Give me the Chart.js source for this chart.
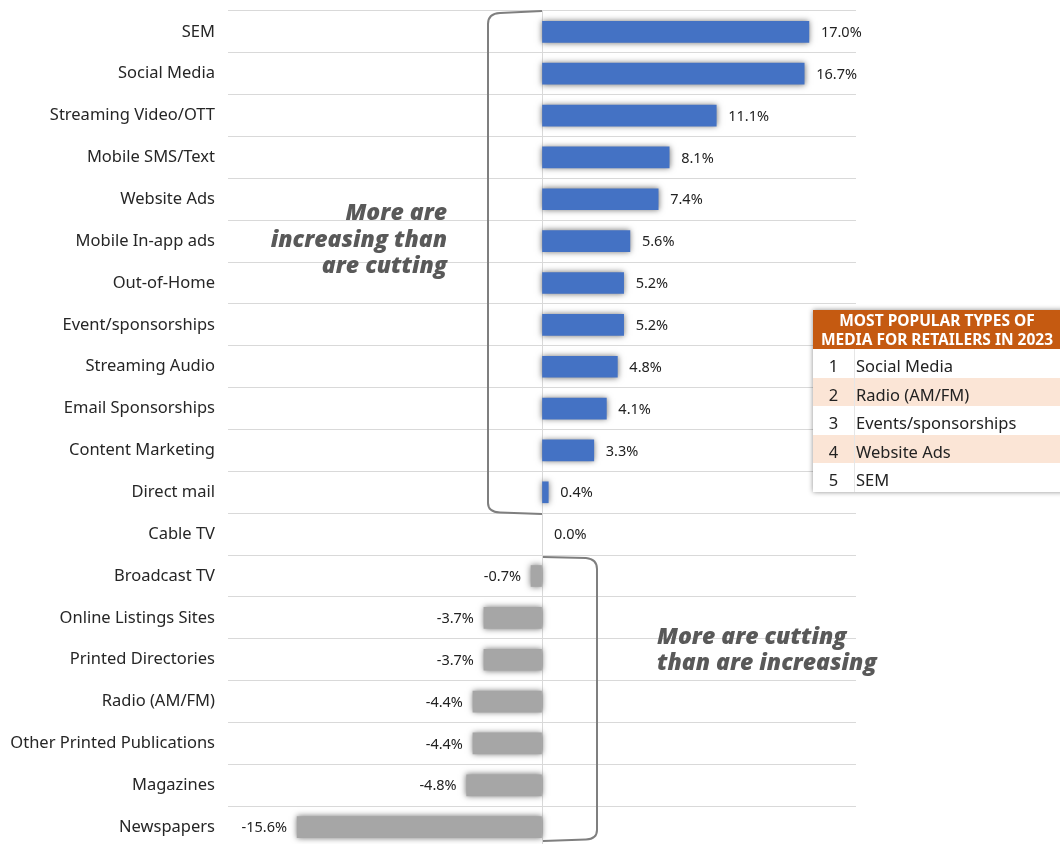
<!DOCTYPE html>
<html lang="en">
<head>
    <meta charset="UTF-8">
    <title>Media spend changes</title>
    <style>
        body { margin: 0; background: #fff; overflow: hidden; width: 1060px; height: 844px; position: relative; font-family: "Noto Sans", Arial, sans-serif; }
        #chart { position: absolute; left: 0; top: -12px; }
        .top5 { position: absolute; left: 813px; top: 310px; width: 256px; background: #fff;
                box-shadow: 0 0 5px rgba(0,0,0,0.45); color: #222; }
        .top5 .head { background: #C55A11; color: #fff; font-weight: 700; font-size: 15.5px; line-height: 19px;
                      text-align: center; padding: 1px 8px 0 0; height: 38px; white-space: nowrap; }
        .top5 .row { display: flex; height: 28.6px; line-height: 33px; font-size: 16.5px; overflow: hidden; }
        .top5 .row.alt { background: #FBE5D6; }
        .top5 .num { width: 41px; text-align: center; border-right: 1px solid #e6e6e6; }
        .top5 .txt { padding-left: 1px; }
    </style>
</head>
<body>
    <canvas id="chart" width="1060" height="883"></canvas>
    <div class="top5">
        <div class="head">MOST POPULAR TYPES OF<br>MEDIA FOR RETAILERS IN 2023</div>
        <div class="row"><div class="num">1</div><div class="txt">Social Media</div></div>
        <div class="row alt"><div class="num">2</div><div class="txt">Radio (AM/FM)</div></div>
        <div class="row"><div class="num">3</div><div class="txt">Events/sponsorships</div></div>
        <div class="row alt"><div class="num">4</div><div class="txt">Website Ads</div></div>
        <div class="row"><div class="num">5</div><div class="txt">SEM</div></div>
    </div>
    <script src="https://cdn.jsdelivr.net/npm/chart.js@4"></script>
    <script>
        const mediaTypes = [
            'SEM', 'Social Media', 'Streaming Video/OTT', 'Mobile SMS/Text', 'Website Ads',
            'Mobile In-app ads', 'Out-of-Home', 'Event/sponsorships', 'Streaming Audio',
            'Email Sponsorships', 'Content Marketing', 'Direct mail', 'Cable TV', 'Broadcast TV',
            'Online Listings Sites', 'Printed Directories', 'Radio (AM/FM)',
            'Other Printed Publications', 'Magazines', 'Newspapers'
        ];
        const netChange = [
            17.0, 16.7, 11.1, 8.1, 7.4, 5.6, 5.2, 5.2, 4.8, 4.1, 3.3, 0.4, 0.0,
            -0.7, -3.7, -3.7, -4.4, -4.4, -4.8, -15.6
        ];
        const blue = '#4472C4';
        const grey = '#A6A6A6';
        const shiftY = 12; // canvas sits 12px above the page top

        // soft shadow behind the bars
        const barShadow = {
            id: 'barShadow',
            beforeDatasetsDraw(chart) {
                const ctx = chart.ctx;
                ctx.save();
                ctx.shadowColor = 'rgba(0,0,0,0.55)';
                ctx.shadowBlur = 6;
            },
            afterDatasetsDraw(chart) {
                chart.ctx.restore();
            }
        };

        // value labels at the end of each bar
        const valueLabels = {
            id: 'valueLabels',
            afterDatasetsDraw(chart) {
                const ctx = chart.ctx;
                const meta = chart.getDatasetMeta(0);
                ctx.save();
                ctx.font = '14.5px "Noto Sans", Arial, sans-serif';
                ctx.fillStyle = '#222';
                ctx.textBaseline = 'middle';
                meta.data.forEach((bar, i) => {
                    const v = netChange[i];
                    const txt = v.toFixed(1) + '%';
                    if (v >= 0) {
                        ctx.textAlign = 'left';
                        ctx.fillText(txt, bar.x + 12, bar.y + 1);
                    } else {
                        ctx.textAlign = 'right';
                        ctx.fillText(txt, bar.x - 10, bar.y + 1);
                    }
                });
                ctx.restore();
            }
        };

        // brackets and the two notes (page coordinates)
        const notes = {
            id: 'notes',
            afterDraw(chart) {
                const ctx = chart.ctx;
                const x0 = chart.scales.x.getPixelForValue(0);
                ctx.save();
                ctx.translate(0, shiftY);
                ctx.strokeStyle = '#7f7f7f';
                ctx.lineWidth = 2;
                ctx.beginPath();
                ctx.moveTo(x0, 11);
                ctx.lineTo(500, 13);
                ctx.quadraticCurveTo(488, 13.5, 488, 24);
                ctx.lineTo(488, 503);
                ctx.quadraticCurveTo(488, 512, 500, 512.5);
                ctx.lineTo(x0, 514);
                ctx.stroke();

                ctx.beginPath();
                ctx.moveTo(x0 + 1, 557);
                ctx.lineTo(586, 558);
                ctx.quadraticCurveTo(597, 559, 597, 569);
                ctx.lineTo(597, 830);
                ctx.quadraticCurveTo(597, 839, 586, 839.5);
                ctx.lineTo(x0 + 1, 841);
                ctx.stroke();

                ctx.fillStyle = '#595959';
                ctx.font = 'italic 800 23px "Open Sans", Arial, sans-serif';
                ctx.textBaseline = 'middle';
                ctx.textAlign = 'right';
                ctx.fillText('More are', 447, 213);
                ctx.fillText('increasing than', 447, 240);
                ctx.fillText('are cutting', 447, 266);
                ctx.textAlign = 'left';
                ctx.fillText('More are cutting', 657, 637);
                ctx.fillText('than are increasing', 657, 663);
                ctx.restore();
            }
        };

        new Chart(document.getElementById('chart'), {
            type: 'bar',
            data: {
                labels: mediaTypes,
                datasets: [{
                    data: netChange,
                    backgroundColor: netChange.map(v => v > 0 ? blue : (v < 0 ? grey : 'rgba(0,0,0,0)')),
                    barThickness: 21,
                    borderWidth: 0
                }]
            },
            options: {
                indexAxis: 'y',
                responsive: false,
                animation: false,
                devicePixelRatio: 1,
                layout: { padding: { top: 10, bottom: 10, left: 0, right: 204 } },
                plugins: {
                    legend: { display: false },
                    tooltip: { enabled: false }
                },
                scales: {
                    x: {
                        min: -20,
                        max: 20,
                        ticks: { display: false, stepSize: 20 },
                        border: { display: false },
                        grid: {
                            drawTicks: false,
                            color: c => c.tick && c.tick.value === 0 ? '#d9d9d9' : 'rgba(0,0,0,0)'
                        }
                    },
                    y: {
                        afterFit(scale) { scale.width = 228; },
                        border: { display: false },
                        grid: { color: '#d9d9d9', drawTicks: false, offset: true },
                        ticks: {
                            color: '#262626',
                            padding: 13,
                            font: { family: '"Noto Sans", Arial, sans-serif', size: 16.5 }
                        }
                    }
                }
            },
            plugins: [barShadow, valueLabels, notes]
        });
    </script>
</body>
</html>
